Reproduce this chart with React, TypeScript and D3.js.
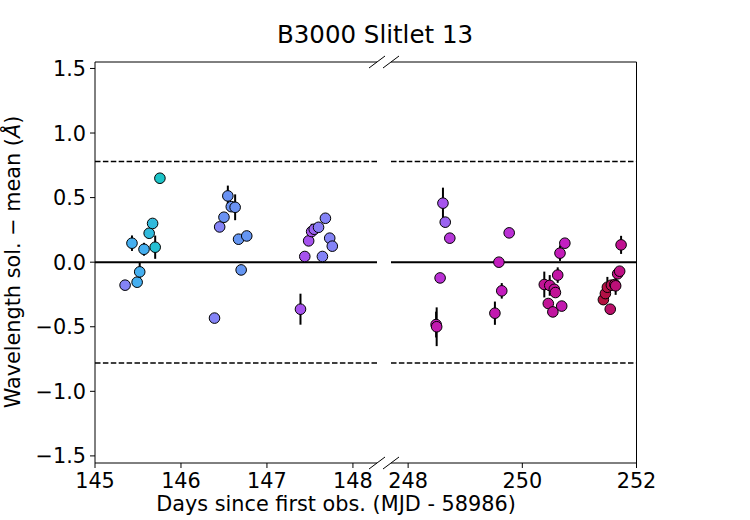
import * as d3 from "d3";

// Observation epochs (days since first obs.), offsets from mean (Å), 1σ errors
// and the colour value each point is shaded by.
const days = [
  145.35, 145.43, 145.49, 145.52, 145.57, 145.63, 145.67, 145.7, 145.755,
  146.39, 146.45, 146.5, 146.545, 146.585, 146.63, 146.67, 146.7, 146.765,
  147.39, 147.44, 147.485, 147.52, 147.55, 147.6, 147.645, 147.68, 147.73, 147.76,
  248.49, 248.5, 248.56, 248.61, 248.65, 248.73, 249.52, 249.59, 249.64, 249.77,
  250.385, 250.455, 250.48, 250.535, 250.56, 250.58, 250.62, 250.66, 250.69, 250.745,
  251.42, 251.455, 251.49, 251.54, 251.56, 251.62, 251.635, 251.67, 251.705, 251.73,
];
const offsets = [
  -0.178, 0.147, -0.155, -0.075, 0.1, 0.224, 0.3, 0.116, 0.65,
  -0.433, 0.273, 0.348, 0.513, 0.43, 0.425, 0.178, -0.06, 0.203,
  -0.364, 0.044, 0.165, 0.237, 0.255, 0.27, 0.044, 0.34, 0.186, 0.124,
  -0.483, -0.5, -0.122, 0.457, 0.31, 0.186, -0.395, 0.0, -0.222, 0.227,
  -0.173, -0.32, -0.18, -0.385, -0.21, -0.235, -0.1, 0.07, -0.34, 0.147,
  -0.29, -0.243, -0.194, -0.364, -0.178, -0.173, -0.183, -0.09, -0.07, 0.134,
];
const errors = [
  0, 0.06, 0.03, 0.07, 0.05, 0, 0, 0.09, 0,
  0, 0, 0, 0.08, 0.04, 0.1, 0.04, 0.04, 0,
  0.12, 0, 0, 0.06, 0.04, 0, 0, 0, 0, 0,
  0.1, 0.15, 0, 0.12, 0.04, 0, 0.09, 0, 0.06, 0,
  0.1, 0, 0.08, 0.04, 0, 0, 0.06, 0.06, 0, 0,
  0.03, 0, 0.08, 0.04, 0, 0, 0.07, 0, 0, 0.07,
];
const shade = [
  0.45, 0.2, 0.2, 0.2, 0.2, 0.1, 0.1, 0.05, 0,
  0.45, 0.45, 0.35, 0.35, 0.35, 0.35, 0.33, 0.33, 0.33,
  0.6, 0.6, 0.6, 0.6, 0.55, 0.47, 0.45, 0.45, 0.45, 0.45,
  0.78, 0.8, 0.7, 0.6, 0.55, 0.68, 0.8, 0.77, 0.77, 0.7,
  0.85, 0.85, 0.85, 0.83, 0.85, 0.85, 0.82, 0.78, 0.8, 0.76,
  0.98, 0.97, 0.97, 0.92, 0.95, 0.93, 0.9, 0.88, 0.88, 0.86,
];

const yTicks = [-1.5, -1.0, -0.5, 0.0, 0.5, 1.0, 1.5];
const leftTicks = [145, 146, 147, 148];
const rightTicks = [248, 250, 252];
const LIMIT = 0.78;

const W = 750;
const H = 520;
const TOP = 62;
const BOTTOM = 463;
const L0 = 95;
const L1 = 377;
const R0 = 391;
const R1 = 636.5;
const FONT = "DejaVu Sans, sans-serif";
const FS = 20.8;

const xLeft = d3.scaleLinear().domain([145, 148.28]).range([L0, L1]);
const xRight = d3.scaleLinear().domain([247.7, 252]).range([R0, R1]);
const y = d3.scaleLinear().domain([-1.555, 1.55]).range([BOTTOM, TOP]);

const colour = d3
  .scaleLinear<string>()
  .domain([0, 0.2, 0.35, 0.45, 0.6, 0.75, 0.87, 1])
  .range(["#1cc4c8", "#45aff0", "#6a92f2", "#8483f6", "#a653ee", "#c41fc8", "#c0108c", "#b01030"])
  .interpolate(d3.interpolateRgb);

const points = days.map((d, i) => ({
  d,
  v: offsets[i],
  e: errors[i],
  c: shade[i],
}));

function Panel({ x, x0, x1, ticks, data }: {
  x: d3.ScaleLinear<number, number>;
  x0: number;
  x1: number;
  ticks: number[];
  data: typeof points;
}) {
  return (
    <g>
      {[LIMIT, -LIMIT].map((v) => (
        <line key={v} x1={x0} x2={x1} y1={y(v)} y2={y(v)} stroke="#000"
          strokeWidth={1.5} strokeDasharray="5.5,2.4" />
      ))}
      <line x1={x0} x2={x1} y1={y(0)} y2={y(0)} stroke="#000" strokeWidth={2} />
      {data.filter((p) => p.e > 0).map((p, i) => (
        <line key={i} x1={x(p.d)} x2={x(p.d)} y1={y(p.v - p.e)} y2={y(p.v + p.e)}
          stroke="#000" strokeWidth={2} />
      ))}
      {data.map((p, i) => (
        <circle key={i} cx={x(p.d)} cy={y(p.v)} r={5.3} fill={colour(p.c)}
          stroke="#000" strokeWidth={1} />
      ))}
      {ticks.map((t) => (
        <g key={t} transform={`translate(${x(t)},${BOTTOM})`}>
          <line y2={5} stroke="#000" strokeWidth={1} />
          <text y={25} textAnchor="middle" fontSize={FS}>{t}</text>
        </g>
      ))}
    </g>
  );
}

function BreakMark({ cx, cy }: { cx: number; cy: number }) {
  return <line x1={cx - 8} y1={cy + 6} x2={cx + 8} y2={cy - 6} stroke="#000" strokeWidth={1} />;
}

export default function App() {
  const left = points.filter((p) => p.d < 200);
  const right = points.filter((p) => p.d > 200);
  return (
    <svg width={W} height={H} viewBox={`0 0 ${W} ${H}`} fontFamily={FONT}
      style={{ position: "absolute", left: 0, top: 0, background: "#fff" }}>
      <Panel x={xLeft} x0={L0} x1={L1} ticks={leftTicks} data={left} />
      <Panel x={xRight} x0={R0} x1={R1} ticks={rightTicks} data={right} />

      {/* spines */}
      <path d={`M${L1},${TOP}H${L0}V${BOTTOM}H${L1}`} fill="none" stroke="#000" strokeWidth={1} />
      <path d={`M${R0},${TOP}H${R1}V${BOTTOM}H${R0}`} fill="none" stroke="#000" strokeWidth={1} />
      <BreakMark cx={L1} cy={TOP} />
      <BreakMark cx={R0} cy={TOP} />
      <BreakMark cx={L1} cy={BOTTOM} />
      <BreakMark cx={R0} cy={BOTTOM} />

      {yTicks.map((t) => (
        <g key={t} transform={`translate(${L0},${y(t)})`}>
          <line x2={-5} stroke="#000" strokeWidth={1} />
          <text x={-9} dy="0.36em" textAnchor="end" fontSize={FS}>
            {d3.format(".1f")(t).replace("-", "\u2212")}
          </text>
        </g>
      ))}

      <text x={375} y={43} textAnchor="middle" fontSize={24.5}>B3000 Slitlet 13</text>
      <text x={336} y={511} textAnchor="middle" fontSize={FS}>
        Days since first obs. (MJD - 58986)
      </text>
      <text transform={`translate(20,262) rotate(-90)`} textAnchor="middle" fontSize={FS}>
        Wavelength sol. {"\u2212"} mean (<tspan fontStyle="italic">{"\u00C5"}</tspan>)
      </text>
    </svg>
  );
}
